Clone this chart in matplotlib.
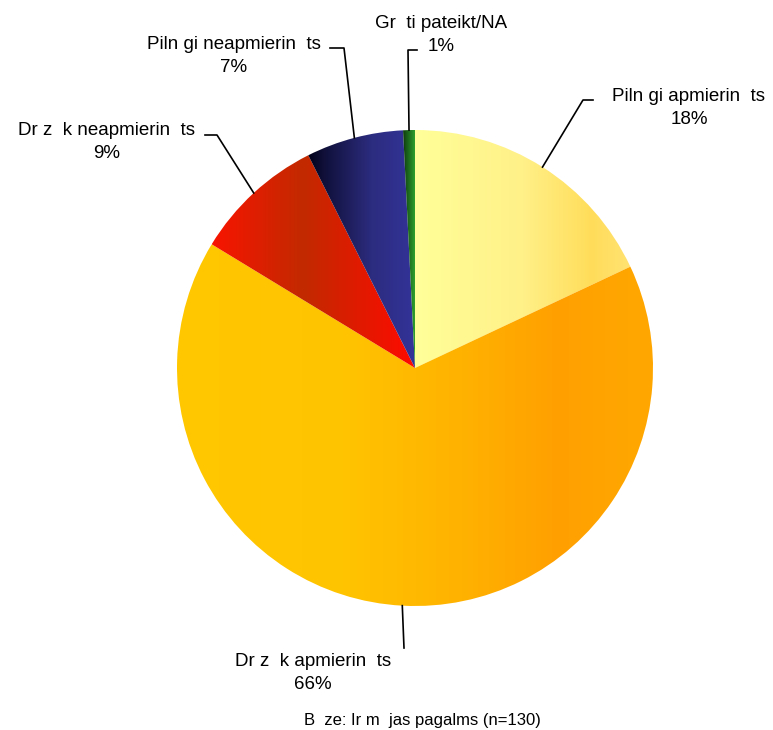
import matplotlib
matplotlib.use("Agg")
import matplotlib.pyplot as plt
import numpy as np
from matplotlib.colors import LinearSegmentedColormap

# Data (Latvian letters with diacritics are missing in the source, shown as gaps)
labels = ["Piln gi apmierin  ts", "Dr z  k apmierin  ts", "Dr z  k neapmierin  ts",
          "Piln gi neapmierin  ts", "Gr  ti pateikt/NA"]
shares = [18.0, 65.7, 8.9, 6.6, 0.8]
pct_labels = ["18%", "66%", "9%", "7%", "1%"]
footer = "B  ze: Ir m  jas pagalms (n=130)"

# horizontal gradient stops for each slice
gradients = [
    [(0.0, "#FFFF99"), (0.5, "#FFF088"), (0.82, "#FFDD5A"), (1.0, "#FFE272")],
    [(0.0, "#FFC800"), (0.35, "#FFC400"), (0.6, "#FFB200"), (0.8, "#FFA000"), (1.0, "#FFA800")],
    [(0.0, "#F81400"), (0.45, "#C22A00"), (1.0, "#FF0A00")],
    [(0.0, "#000018"), (0.15, "#10103A"), (0.6, "#2C2C80"), (1.0, "#333399")],
    [(0.0, "#0E3A0E"), (1.0, "#2EA02E")],
]

W, H = 773, 730
cx, cy, R = 415, H - 368, 238

fig = plt.figure(figsize=(W / 100, H / 100), dpi=100)
ax = fig.add_axes([0, 0, 1, 1])

wedges, _ = ax.pie(shares, center=(cx, cy), radius=R, startangle=90,
                   counterclock=False, colors=["none"] * len(shares),
                   wedgeprops=dict(linewidth=0))

ramp = np.linspace(0, 1, 256)[None, :]
for w, stops in zip(wedges, gradients):
    t = np.radians(np.linspace(w.theta1, w.theta2, 100))
    xs = np.concatenate([[cx], cx + R * np.cos(t)])
    ys = np.concatenate([[cy], cy + R * np.sin(t)])
    cmap = LinearSegmentedColormap.from_list("g", stops)
    im = ax.imshow(ramp, cmap=cmap, extent=[xs.min(), xs.max(), ys.min(), ys.max()],
                   aspect="auto", interpolation="bilinear", zorder=1)
    im.set_clip_path(w)

# label positions and leader elbows, in pixel coordinates (top-left origin)
text_pos = [(689, 108), (313, 673), (107, 142), (234, 56), (441, 35)]
elbows = [[(583, 100), (593, 100)],
          [(404, 648)],
          [(217, 135), (205, 135)],
          [(344, 48), (330, 48)],
          [(408, 50), (417, 50)]]

for w, lab, pct, (tx, ty), elb in zip(wedges, labels, pct_labels, text_pos, elbows):
    mid = np.radians((w.theta1 + w.theta2) / 2)
    sx, sy = cx + R * np.cos(mid), cy + R * np.sin(mid)
    px = [sx] + [e[0] for e in elb]
    py = [sy] + [H - e[1] for e in elb]
    ax.plot(px, py, color="black", lw=1.2, zorder=3)
    ax.text(tx, H - ty, lab + "\n" + pct, ha="center", va="center",
            fontsize=13.5, family="Liberation Sans", linespacing=1.4)

ax.text(422, H - 720, footer, ha="center", va="center",
        fontsize=12, family="Liberation Sans")

ax.set_xlim(0, W)
ax.set_ylim(0, H)
ax.axis("off")

fig.savefig("out.png", dpi=100, facecolor="white")
